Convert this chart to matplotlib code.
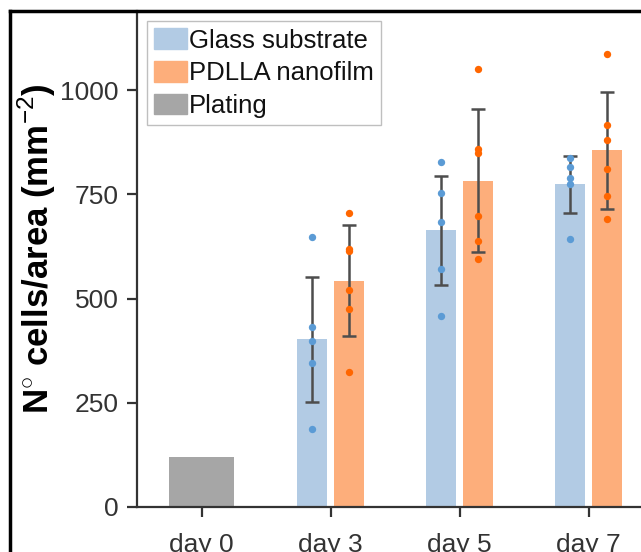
import numpy as np
import matplotlib
matplotlib.use("Agg")
import matplotlib.pyplot as plt
from matplotlib.patches import Patch
from matplotlib.lines import Line2D

plt.rcParams['font.family'] = ['Liberation Sans', 'DejaVu Sans']
plt.rcParams['mathtext.fontset'] = 'custom'
plt.rcParams['mathtext.rm'] = 'Liberation Sans'
plt.rcParams['mathtext.bf'] = 'Liberation Sans:bold'

# --- données ---
days = ["day 0", "day 3", "day 5", "day 7"]
plating_value = 120

glass_mean = [403, 664, 774]
glass_err = [150, 131, 68]
glass_points = [
    [648, 432, 398, 346, 187],
    [827, 754, 683, 570, 458],
    [838, 815, 790, 775, 642],
]

pdlla_mean = [543, 783, 856]
pdlla_err = [133, 172, 140]
pdlla_points = [
    [705, 620, 613, 520, 475, 324],
    [1051, 859, 850, 697, 639, 594],
    [1087, 916, 880, 812, 747, 691],
]

BLUE_BAR = '#b2cbe4'
BLUE_DOT = '#5b9bd5'
ORANGE_BAR = '#fdae7b'
ORANGE_DOT = '#ff6600'
GRAY_BAR = '#a6a6a6'
ERR_COLOR = '#4d4d4d'
AX_COLOR = '#333333'

fig = plt.figure(figsize=(6.41, 5.52), dpi=100)
ax = fig.add_axes([137 / 641, 45 / 552, 516 / 641, 496 / 552])

x = np.arange(len(days))
w = 0.235
off = 0.143

ax.bar(x[0], plating_value, width=0.5, color=GRAY_BAR, zorder=1)

xg = x[1:] - off
xp = x[1:] + off
ax.bar(xg, glass_mean, width=w, color=BLUE_BAR, zorder=1)
ax.bar(xp, pdlla_mean, width=w, color=ORANGE_BAR, zorder=1)

ax.errorbar(xg, glass_mean, yerr=glass_err, fmt='none', ecolor=ERR_COLOR,
            elinewidth=1.8, capsize=5, capthick=1.8, zorder=2)
ax.errorbar(xp, pdlla_mean, yerr=pdlla_err, fmt='none', ecolor=ERR_COLOR,
            elinewidth=1.8, capsize=5, capthick=1.8, zorder=2)

for i in range(3):
    ax.scatter([xg[i]] * len(glass_points[i]), glass_points[i], s=28,
               color=BLUE_DOT, linewidths=0, zorder=3)
    ax.scatter([xp[i]] * len(pdlla_points[i]), pdlla_points[i], s=28,
               color=ORANGE_DOT, linewidths=0, zorder=3)

ax.set_xlim(-0.5, 3.5)
ax.set_ylim(0, 1190)
ax.set_yticks([0, 250, 500, 750, 1000])
ax.set_xticks(x)
ax.set_xticklabels(days)

for side in ['top', 'right']:
    ax.spines[side].set_visible(False)
for side in ['left', 'bottom']:
    ax.spines[side].set_color(AX_COLOR)
    ax.spines[side].set_linewidth(1.6)

ax.tick_params(axis='both', direction='out', length=7, width=1.6,
               color=AX_COLOR, labelcolor=AX_COLOR, labelsize=19)
ax.tick_params(axis='y', pad=6)
ax.tick_params(axis='x', pad=12)

ax.set_ylabel(r"N$^{\circ}$ cells/area (mm$^{\mathrm{-2}}$)", fontsize=25,
              fontweight='bold')
ax.yaxis.set_label_coords(-0.153, 0.52)

handles = [Patch(color=BLUE_BAR), Patch(color=ORANGE_BAR), Patch(color=GRAY_BAR)]
leg = ax.legend(handles, ["Glass substrate", "PDLLA nanofilm", "Plating"],
                loc='upper left', fontsize=18.5, frameon=True, fancybox=False,
                handlelength=1.25, handleheight=0.85, handletextpad=0.1,
                labelspacing=0.33, borderpad=0.28, borderaxespad=0.4)
leg.get_frame().set_edgecolor('#b0b0b0')
leg.get_frame().set_linewidth(1.0)
for t in leg.get_texts():
    t.set_color('#111111')

# cadre noir du panneau
fig.add_artist(Line2D([10 / 641, 10 / 641], [0, 1 - 11 / 552], color='black',
                      linewidth=2.5, transform=fig.transFigure))
fig.add_artist(Line2D([10 / 641, 1], [1 - 11 / 552, 1 - 11 / 552], color='black',
                      linewidth=2.5, transform=fig.transFigure))

fig.savefig("out.png", dpi=100)
